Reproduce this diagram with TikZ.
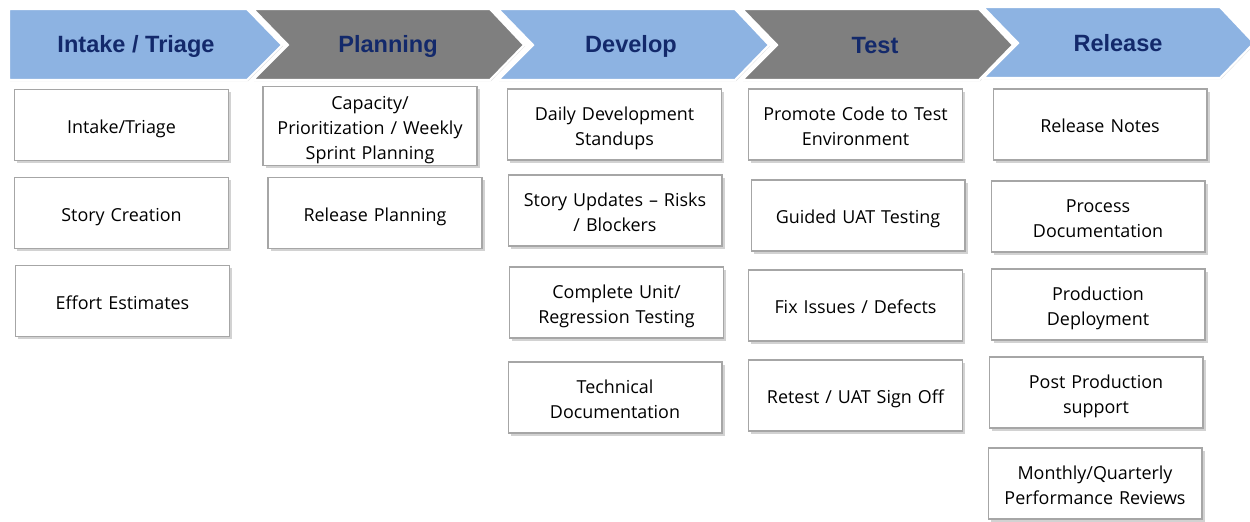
\documentclass[tikz,border=0pt]{standalone}
\usepackage{fontspec}
\setmainfont{Open Sans}
\newfontfamily\headfont{Liberation Sans}
\usepackage{xcolor}
\usetikzlibrary{shadows}
\definecolor{phaseblue}{HTML}{8DB3E2}
\definecolor{phasegray}{HTML}{7F7F7F}
\definecolor{phasetext}{HTML}{13296B}
\definecolor{boxline}{HTML}{A6A6A6}

% one chevron: left x, top y, first one has a flat back
\newcommand{\chevronFlat}[2]{%
  \filldraw[phase, fill=#2] (#1,9) -- ++(238,0) -- ++(35,36) -- ++(-35,35) -- ++(-238,0) -- cycle;}
\newcommand{\chevronCut}[3]{%
  \filldraw[phase, fill=#3] (#1,#2) -- ++(237,0) -- ++(34,36) -- ++(-34,35) -- ++(-237,0) -- ++(35,-35) -- cycle;}

\begin{document}
\begin{tikzpicture}[x=0.02cm, y=-0.02cm]
		\tikzset{phase/.style = {draw=white, line width=1.2pt, drop shadow={shadow xshift=0.6pt, shadow yshift=-0.6pt, fill=black!25}}}
		\tikzset{phasename/.style = {font=\headfont\bfseries\fontsize{13.4}{16}\selectfont, text=phasetext}}
		\tikzset{task/.style = {draw=boxline, line width=0.6pt, fill=white, minimum width=4.28cm, minimum height=1.42cm, text width=4.1cm, align=center, inner sep=1pt, font=\fontsize{10.2}{14.2}\selectfont,
			execute at begin node={\rule{0pt}{12pt}}, execute at end node={\rule[-2.5pt]{0pt}{2.5pt}},
			drop shadow={shadow xshift=1.6pt, shadow yshift=-1.6pt, fill=black!35}}}

		\useasboundingbox (0,0) rectangle (1250,521);

		% phases
		\chevronFlat{9}{phaseblue}
		\chevronCut{253}{9}{phasegray}
		\chevronCut{498}{9}{phaseblue}
		\chevronCut{742}{9}{phasegray}
		\chevronCut{983}{7}{phaseblue}

		\node[phasename] (H_1) at (136,46.5) {Intake / Triage};
		\node[phasename] (H_2) at (388,46.5) {Planning};
		\node[phasename] (H_3) at (631,46.5) {Develop};
		\node[phasename] (H_4) at (875,45.5) {Test};
		\node[phasename] (H_5) at (1118,43.5) {Release};

		% intake
		\node[task] (I_1) at (121.5,125) {Intake/Triage};
		\node[task] (I_2) at (121.5,213) {Story Creation};
		\node[task] (I_3) at (122.5,301) {Effort Estimates};

		% planning
		\node[task] (P_1) at (370,126) {Capacity/\\Prioritization / Weekly\\Sprint Planning};
		\node[task] (P_2) at (375,213) {Release Planning};

		% develop
		\node[task] (D_1) at (614.5,124.5) {Daily Development\\Standups};
		\node[task] (D_2) at (615,210.5) {Story Updates -- Risks\\/ Blockers};
		\node[task] (D_3) at (616.5,302.5) {Complete Unit/\\Regression Testing};
		\node[task] (D_4) at (615,397.5) {Technical\\Documentation};

		% test
		\node[task] (T_1) at (855.5,124.5) {Promote Code to Test\\Environment};
		\node[task] (T_2) at (858,215.5) {Guided UAT Testing};
		\node[task] (T_3) at (855.5,305.5) {Fix Issues / Defects};
		\node[task] (T_4) at (855.5,395.5) {Retest / UAT Sign Off};

		% release
		\node[task] (R_1) at (1100,124.5) {Release Notes};
		\node[task] (R_2) at (1098,216.5) {Process\\Documentation};
		\node[task] (R_3) at (1098,304.5) {Production\\Deployment};
		\node[task] (R_4) at (1096,392.5) {Post Production\\support};
		\node[task] (R_5) at (1095,483.5) {Monthly/Quarterly\\Performance Reviews};

	\end{tikzpicture}
\end{document}
